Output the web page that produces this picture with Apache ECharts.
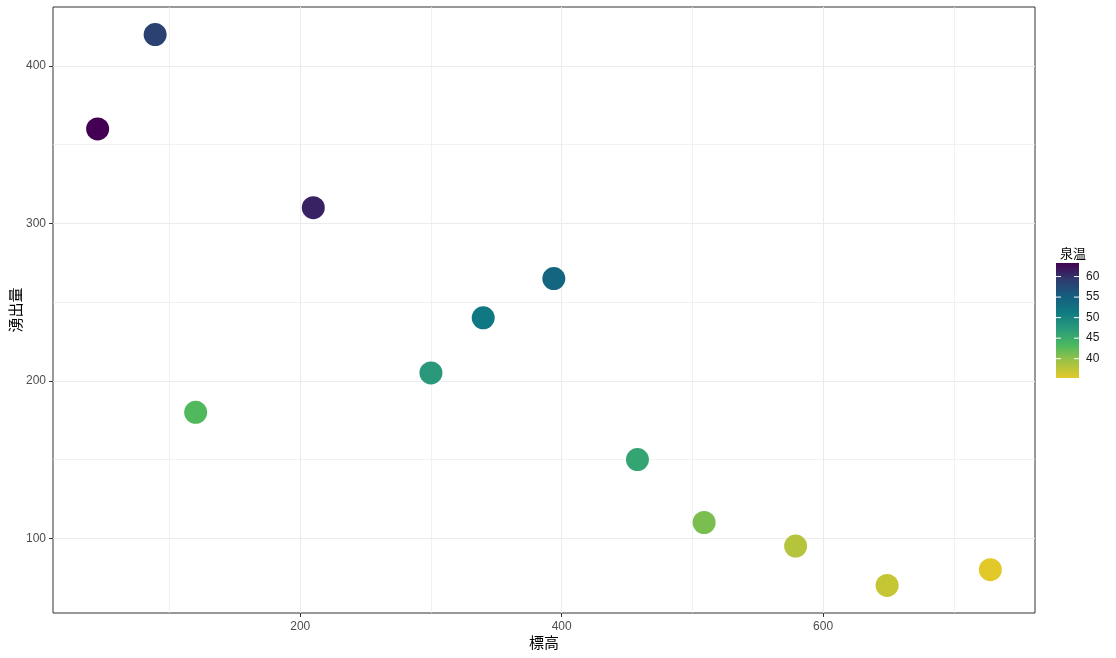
<!DOCTYPE html>
<html>
<head>
<meta charset="utf-8">
<script src="https://cdn.jsdelivr.net/npm/echarts@6/dist/echarts.min.js"></script>
<style>
  html, body { margin: 0; padding: 0; background: #fff; }
  #chart-container { width: 1116px; height: 658px; }
</style>
</head>
<body>
<div id="chart-container"></div>
<script>
// 標高, 湧出量, 泉温 per spring
var elevation = [45, 89, 120, 210, 300, 340, 394, 458, 509, 579, 649, 728];
var flow = [360, 420, 180, 310, 205, 240, 265, 150, 110, 95, 70, 80];
var temperature = [63.3, 58.5, 43.0, 61.0, 47.5, 51.5, 54.0, 46.0, 41.0, 38.0, 37.0, 35.3];

var xMajor = [200, 400, 600];
var xMinor = [100, 300, 500, 700];
var yMajor = [100, 200, 300, 400];
var yMinor = [150, 250, 350];
var legendTicks = [40, 45, 50, 55, 60];

// low -> high temperature
var palette = ["#e2c92a", "#9fc244", "#4ab860", "#2a9a7b", "#0f7a82", "#165c7f", "#2f3a6e", "#440154"];

var dom = document.getElementById("chart-container");
var myChart = echarts.init(dom, null, { renderer: "canvas" });

function expand(arr) {
  var lo = Math.min.apply(null, arr), hi = Math.max.apply(null, arr);
  var pad = (hi - lo) * 0.05;
  return [lo - pad, hi + pad];
}
var xr = expand(elevation);
var yr = expand(flow);
var tMin = Math.min.apply(null, temperature);
var tMax = Math.max.apply(null, temperature);

var points = elevation.map(function (x, i) {
  return [x, flow[i], temperature[i]];
});
var tickPoints = legendTicks.map(function (v) {
  return [0, v];
});

var gradStops = palette.slice().reverse().map(function (c, i) {
  return { offset: i / (palette.length - 1), color: c };
});

var numFont = "Liberation Sans";
var cjkFont = "Noto Sans CJK JP";
var gridLine = "#ebebeb";

function legendTickSeries(dx) {
  return {
    type: "scatter",
    xAxisIndex: 2,
    yAxisIndex: 2,
    data: tickPoints,
    symbol: "rect",
    symbolSize: [5, 1],
    symbolOffset: [dx, 0],
    silent: true,
    itemStyle: { color: "#fff", opacity: 1 },
    z: 5
  };
}

var option = {
  backgroundColor: "#fff",
  animation: false,
  title: {
    text: "泉温",
    left: 1055,
    top: 242,
    textStyle: { fontFamily: cjkFont, fontSize: 13, fontWeight: "normal", color: "#000" }
  },
  grid: [
    { left: 53, right: 81, top: 7, bottom: 45, outerBoundsMode: "none", show: true,
      borderColor: "#333333", borderWidth: 1, backgroundColor: "#fff" },
    // colour bar of the legend
    { left: 1056, width: 23, top: 263, height: 115, outerBoundsMode: "none", show: true,
      borderWidth: 0, backgroundColor: new echarts.graphic.LinearGradient(0, 0, 0, 1, gradStops) }
  ],
  xAxis: [
    {
      gridIndex: 0, type: "value", min: xr[0], max: xr[1],
      axisLine: { show: false },
      axisTick: { customValues: xMajor, length: 4, lineStyle: { color: "#333" } },
      axisLabel: { customValues: xMajor, color: "#4d4d4d", fontFamily: numFont, fontSize: 12, margin: 8 },
      splitLine: { lineStyle: { color: gridLine, width: 1 } },
      name: "標高", nameLocation: "middle", nameGap: 22, nameMoveOverlap: false,
      nameTextStyle: { fontFamily: cjkFont, fontSize: 15, color: "#000" }
    },
    {
      gridIndex: 0, type: "value", min: xr[0], max: xr[1],
      axisLine: { show: false },
      axisTick: { show: false, customValues: xMinor },
      axisLabel: { show: false },
      splitLine: { lineStyle: { color: gridLine, width: 0.7 } }
    },
    { gridIndex: 1, type: "value", min: -1, max: 1, show: false }
  ],
  yAxis: [
    {
      gridIndex: 0, type: "value", min: yr[0], max: yr[1],
      axisLine: { show: false },
      axisTick: { customValues: yMajor, length: 4, lineStyle: { color: "#333" } },
      axisLabel: { customValues: yMajor, color: "#4d4d4d", fontFamily: numFont, fontSize: 12, margin: 7 },
      splitLine: { lineStyle: { color: gridLine, width: 1 } },
      name: "湧出量", nameLocation: "middle", nameGap: 30, nameRotate: 90, nameMoveOverlap: false,
      nameTextStyle: { fontFamily: cjkFont, fontSize: 15, color: "#000" }
    },
    {
      gridIndex: 0, type: "value", min: yr[0], max: yr[1],
      axisLine: { show: false },
      axisTick: { show: false, customValues: yMinor },
      axisLabel: { show: false },
      splitLine: { lineStyle: { color: gridLine, width: 0.7 } }
    },
    {
      gridIndex: 1, type: "value", min: tMin, max: tMax, position: "right",
      axisLine: { show: false },
      axisTick: { show: false },
      axisLabel: { customValues: legendTicks, color: "#1a1a1a", fontFamily: numFont, fontSize: 12, margin: 7 },
      splitLine: { show: false }
    }
  ],
  visualMap: {
    show: false,
    type: "continuous",
    seriesIndex: 0,
    dimension: 2,
    min: tMin,
    max: tMax,
    inRange: { color: palette }
  },
  series: [
    {
      type: "scatter",
      xAxisIndex: 0,
      yAxisIndex: 0,
      data: points,
      symbolSize: 23,
      itemStyle: { opacity: 1 }
    },
    legendTickSeries(-9),
    legendTickSeries(9)
  ]
};

myChart.setOption(option);
window.addEventListener("resize", myChart.resize);
</script>
</body>
</html>
